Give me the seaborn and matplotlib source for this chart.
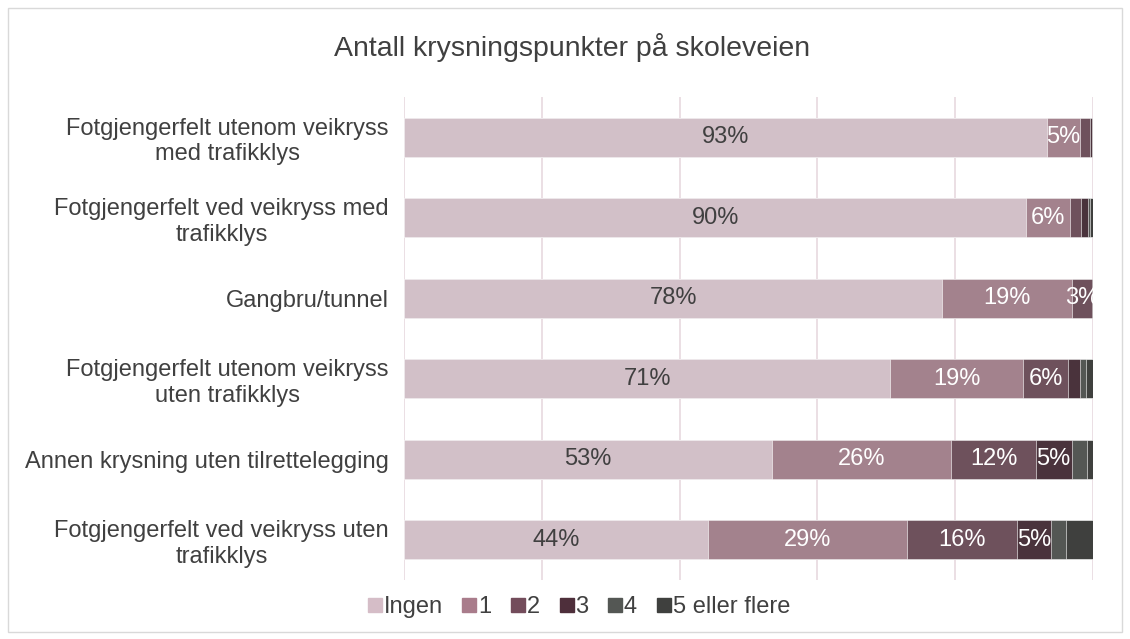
import matplotlib
matplotlib.use("Agg")
import matplotlib.pyplot as plt
import seaborn as sns
import pandas as pd
import numpy as np
from matplotlib.lines import Line2D
from matplotlib.patches import Rectangle

categories = [
    "Fotgjengerfelt utenom veikryss\nmed trafikklys",
    "Fotgjengerfelt ved veikryss med\ntrafikklys",
    "Gangbru/tunnel",
    "Fotgjengerfelt utenom veikryss\nuten trafikklys",
    "Annen krysning uten tilrettelegging",
    "Fotgjengerfelt ved veikryss uten\ntrafikklys",
]
series = ["Ingen", "1", "2", "3", "4", "5 eller flere"]
ingen = [93.3, 90.3, 78.1, 70.6, 53.4, 44.1]
en = [4.8, 6.4, 18.9, 19.3, 26.0, 28.9]
to = [1.5, 1.6, 2.8, 6.5, 12.3, 16.0]
tre = [0.2, 1.0, 0.2, 1.7, 5.2, 4.9]
fire = [0.1, 0.3, 0.0, 0.9, 2.2, 2.2]
fem = [0.1, 0.4, 0.0, 1.0, 0.9, 3.9]
colors = ["#D5BDC7", "#A97C8B", "#734C5B", "#4E2F3B", "#545754", "#3F403E"]

values = [ingen, en, to, tre, fire, fem]
df = pd.DataFrame({s: v for s, v in zip(series, values)})
df["cat"] = categories
cum = df[series].cumsum(axis=1)

sns.set_style("white")
plt.rcParams["font.family"] = ["Liberation Sans", "DejaVu Sans"]

fig = plt.figure(figsize=(11.3, 6.39), dpi=100)
ax = fig.add_axes([404 / 1130, 1 - 580 / 639, (1093 - 404) / 1130, (580 - 97) / 639])

for i in range(len(series) - 1, -1, -1):
    d = pd.DataFrame({"cat": categories, "val": cum[series[i]].values})
    sns.barplot(data=d, x="val", y="cat", orient="h", color=colors[i],
                width=0.49, ax=ax, edgecolor="white", linewidth=0.4, zorder=3)

for j, cat in enumerate(categories):
    left = 0.0
    for i, s in enumerate(series):
        v = df[s].iloc[j]
        if i <= 3 and v >= 2.5:
            ax.text(left + v / 2, j, f"{round(v):d}%", ha="center", va="center",
                    fontsize=17, color="#404040" if i == 0 else "white", zorder=5)
        left += v

ax.set_xlim(0, 100)
ax.set_ylim(5.5, -0.5)
ax.set_xticks([0, 20, 40, 60, 80, 100])
ax.set_xticklabels([])
ax.xaxis.grid(True, color="#E8D9DF", linewidth=1.2, zorder=0)
ax.set_axisbelow(True)
for sp in ax.spines.values():
    sp.set_visible(False)
ax.set_xlabel("")
ax.set_ylabel("")
ax.tick_params(axis="y", length=0, pad=11)
ax.tick_params(axis="x", length=0)
ax.set_yticks(range(len(categories)))
ax.set_yticklabels(categories, fontsize=17, color="#404040", multialignment="center")

fig.text(572 / 1130, 1 - 47 / 639, "Antall krysningspunkter på skoleveien",
         ha="center", va="center", fontsize=20.5, color="#404040")

handles = [Line2D([0], [0], marker="s", linestyle="none", markersize=9.5,
                  markerfacecolor=c, markeredgecolor=c) for c in colors]
fig.legend(handles, series, loc="center", bbox_to_anchor=(578 / 1130, 1 - 607 / 639),
           ncol=6, frameon=False, fontsize=17, handletextpad=0.0,
           columnspacing=0.75, handlelength=0.75, labelcolor="#404040")

fig.patches.append(Rectangle((8 / 1130, 1 - 632 / 639), 1114 / 1130, 624 / 639,
                             transform=fig.transFigure, fill=False,
                             edgecolor="#D9D9D9", linewidth=1.0))

fig.savefig("out.png", dpi=100)
